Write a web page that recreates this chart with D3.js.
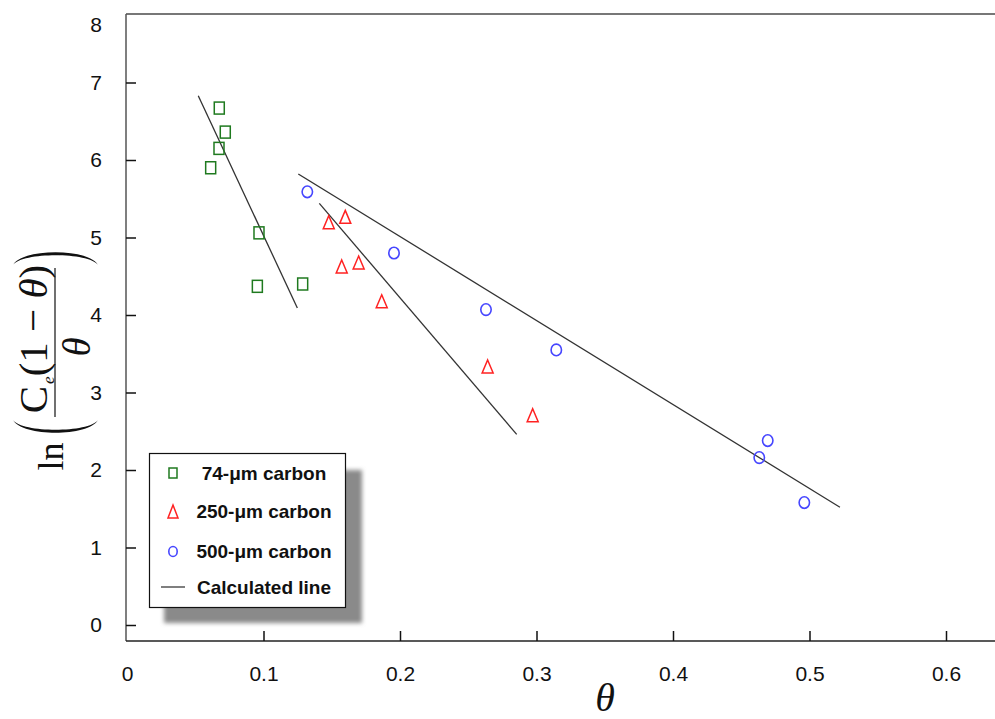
<!DOCTYPE html>
<html><head><meta charset="utf-8">
<script src="https://cdn.jsdelivr.net/npm/d3@7"></script>
<style>body{margin:0;background:#fff} svg{display:block}</style>
</head><body><svg id="c" width="995" height="719"></svg>
<script>
// ---- data ----
const xTicks = [0, 0.1, 0.2, 0.3, 0.4, 0.5, 0.6];
const yTicks = [0, 1, 2, 3, 4, 5, 6, 7, 8];
const seriesNames = ["74-\u03bcm carbon", "250-\u03bcm carbon", "500-\u03bcm carbon"];
const lineName = "Calculated line";

const theta74 = [0.0676, 0.0720, 0.0674, 0.0613, 0.0967, 0.0955, 0.1287];
const lnv74   = [6.67, 6.36, 6.15, 5.90, 5.06, 4.37, 4.40];
const theta250 = [0.1478, 0.1599, 0.1573, 0.1697, 0.1866, 0.2642, 0.2972];
const lnv250   = [5.19, 5.26, 4.62, 4.67, 4.17, 3.33, 2.70];
const theta500 = [0.1321, 0.1956, 0.2630, 0.3145, 0.4694, 0.4632, 0.4962];
const lnv500   = [5.59, 4.80, 4.07, 3.55, 2.38, 2.16, 1.58];

const fit74  = [[0.0522, 6.83], [0.1248, 4.09]];
const fit250 = [[0.1409, 5.44], [0.2855, 2.46]];
const fit500 = [[0.1255, 5.82], [0.5223, 1.52]];

// ---- setup ----
const svg = d3.select("#c");
const frame = {left: 126, top: 14, bottom: 641, right: 995};
const x = d3.scaleLinear().domain([0, 0.6]).range([127, 946]);
const y = d3.scaleLinear().domain([0, 7]).range([625, 82.5]);
const SANS = "'Liberation Sans', Arial, sans-serif";
const SERIF = "'Liberation Serif', 'Times New Roman', serif";

const defs = svg.append("defs");
defs.append("filter").attr("id", "blur").attr("x", "-10%").attr("y", "-10%").attr("width", "120%").attr("height", "120%")
  .append("feGaussianBlur").attr("stdDeviation", 2);

// frame lines
svg.append("line").attr("x1", frame.left).attr("x2", frame.right).attr("y1", frame.top).attr("y2", frame.top)
  .attr("stroke", "#777").attr("stroke-width", 2);
svg.append("line").attr("x1", frame.left).attr("x2", frame.left).attr("y1", frame.top).attr("y2", frame.bottom)
  .attr("stroke", "#555").attr("stroke-width", 1.5);
svg.append("line").attr("x1", frame.left).attr("x2", frame.right).attr("y1", frame.bottom).attr("y2", frame.bottom)
  .attr("stroke", "#222").attr("stroke-width", 1.5);

// x axis
const gx = svg.append("g").attr("transform", `translate(0,${frame.bottom})`)
  .call(d3.axisBottom(x).tickValues(xTicks).tickSize(-10).tickPadding(25).tickFormat(d => d === 0 ? "0" : d3.format(".1f")(d)));
gx.select(".domain").remove();
gx.selectAll(".tick line").attr("stroke", "#111").attr("stroke-width", 1.5);
gx.selectAll(".tick").filter(d => d === 0).select("line").remove();
gx.selectAll(".tick text").attr("font-family", SANS).attr("font-size", 21).attr("fill", "#111");

// y axis
const yAxisTicks = yTicks.filter(v => y(v) > frame.top + 10);
const gy = svg.append("g").attr("transform", `translate(${frame.left},0)`)
  .call(d3.axisLeft(y).tickValues(yAxisTicks).tickSize(-10).tickPadding(24).tickFormat(d3.format("d")));
gy.select(".domain").remove();
gy.selectAll(".tick line").attr("stroke", "#111").attr("stroke-width", 1.5);
gy.selectAll(".tick text").attr("font-family", SANS).attr("font-size", 21).attr("fill", "#111");
// labels beyond the frame top are pinned just inside it (no tick mark)
yTicks.filter(v => y(v) <= frame.top + 10).forEach(v => {
  svg.append("text").attr("x", frame.left - 24).attr("y", frame.top + 11).attr("dy", "0.32em")
    .attr("text-anchor", "end").attr("font-family", SANS).attr("font-size", 21).attr("fill", "#111").text(v);
});

// fitted lines
const lineGen = d3.line().x(d => x(d[0])).y(d => y(d[1]));
[fit74, fit250, fit500].forEach(f => {
  svg.append("path").attr("d", lineGen(f)).attr("fill", "none").attr("stroke", "#333").attr("stroke-width", 1.3);
});

// markers
const greenC = "#1f7a1f", redC = "#ff2222", blueC = "#4646ff";
function square(g, cx, cy, w, h) {
  g.append("rect").attr("x", cx - w / 2).attr("y", cy - h / 2).attr("width", w).attr("height", h)
    .attr("fill", "none").attr("stroke", greenC).attr("stroke-width", 1.5);
}
function triangle(g, cx, cy, w, h) {
  g.append("path").attr("d", `M${cx},${cy - h / 2 - 1}L${cx + w / 2},${cy + h / 2}L${cx - w / 2},${cy + h / 2}Z`)
    .attr("fill", "none").attr("stroke", redC).attr("stroke-width", 1.5);
}
function circle(g, cx, cy, rx, ry) {
  g.append("ellipse").attr("cx", cx).attr("cy", cy).attr("rx", rx).attr("ry", ry)
    .attr("fill", "none").attr("stroke", blueC).attr("stroke-width", 1.6);
}
const pts = svg.append("g");
theta74.forEach((t, i) => square(pts, x(t), y(lnv74[i]), 10, 12));
theta250.forEach((t, i) => triangle(pts, x(t), y(lnv250[i]), 11, 12));
theta500.forEach((t, i) => circle(pts, x(t), y(lnv500[i]), 5.2, 5.8));

// legend
const lg = svg.append("g");
lg.append("rect").attr("x", 164).attr("y", 470).attr("width", 198).attr("height", 153)
  .attr("fill", "#8a8a8a").attr("filter", "url(#blur)");
lg.append("rect").attr("x", 149.5).attr("y", 453.5).attr("width", 196).attr("height", 154)
  .attr("fill", "#fff").attr("stroke", "#111").attr("stroke-width", 1.2);
const legendRows = [473, 511, 551.5, 587];
square(lg, 173, legendRows[0], 8, 10);
triangle(lg, 173, legendRows[1] + 1, 10, 12);
circle(lg, 173, legendRows[2], 4.2, 5);
lg.append("line").attr("x1", 161).attr("x2", 185).attr("y1", legendRows[3]).attr("y2", legendRows[3])
  .attr("stroke", "#555").attr("stroke-width", 1.5);
[...seriesNames, lineName].forEach((s, i) => {
  lg.append("text").attr("x", 264).attr("y", legendRows[i]).attr("dy", "0.36em").attr("text-anchor", "middle")
    .attr("font-family", SANS).attr("font-weight", "bold").attr("font-size", 19).attr("fill", "#111").text(s);
});

// x-axis title
svg.append("text").attr("x", 605).attr("y", 711).attr("text-anchor", "middle")
  .attr("font-family", SERIF).attr("font-style", "italic").attr("font-size", 40).attr("fill", "#111").text("\u03b8");

// y-axis title: ln( Ce(1-θ) / θ ), rotated
const yl = svg.append("g").attr("transform", "rotate(-90)");
yl.append("text").attr("x", -456.5).attr("y", 63).attr("text-anchor", "middle")
  .attr("font-family", SERIF).attr("font-size", 36).attr("fill", "#111").text("ln");
const num = yl.append("text").attr("x", -339).attr("y", 47).attr("text-anchor", "middle")
  .attr("font-family", SERIF).attr("font-size", 41).attr("fill", "#111");
num.append("tspan").text("C");
num.append("tspan").attr("font-size", 17).attr("font-style", "italic").attr("dy", 7).attr("dx", 2).text("e");
num.append("tspan").attr("dy", -7).text("(1 \u2212 ");
num.append("tspan").attr("font-style", "italic").text("\u03b8");
num.append("tspan").text(")");
yl.append("text").attr("x", -347).attr("y", 90).attr("text-anchor", "middle")
  .attr("font-family", SERIF).attr("font-style", "italic").attr("font-size", 39).attr("fill", "#111").text("\u03b8");
// fraction bar and big parentheses
svg.append("line").attr("x1", 55).attr("x2", 55).attr("y1", 268).attr("y2", 417).attr("stroke", "#111").attr("stroke-width", 1.2);
svg.append("path").attr("d", "M13,420 C22,437 89,437 98,420 C89,433 22,433 13,420 Z").attr("fill", "#111");
svg.append("path").attr("d", "M13,265 C22,248 89,248 98,265 C89,252 22,252 13,265 Z").attr("fill", "#111");
</script>
</body></html>
